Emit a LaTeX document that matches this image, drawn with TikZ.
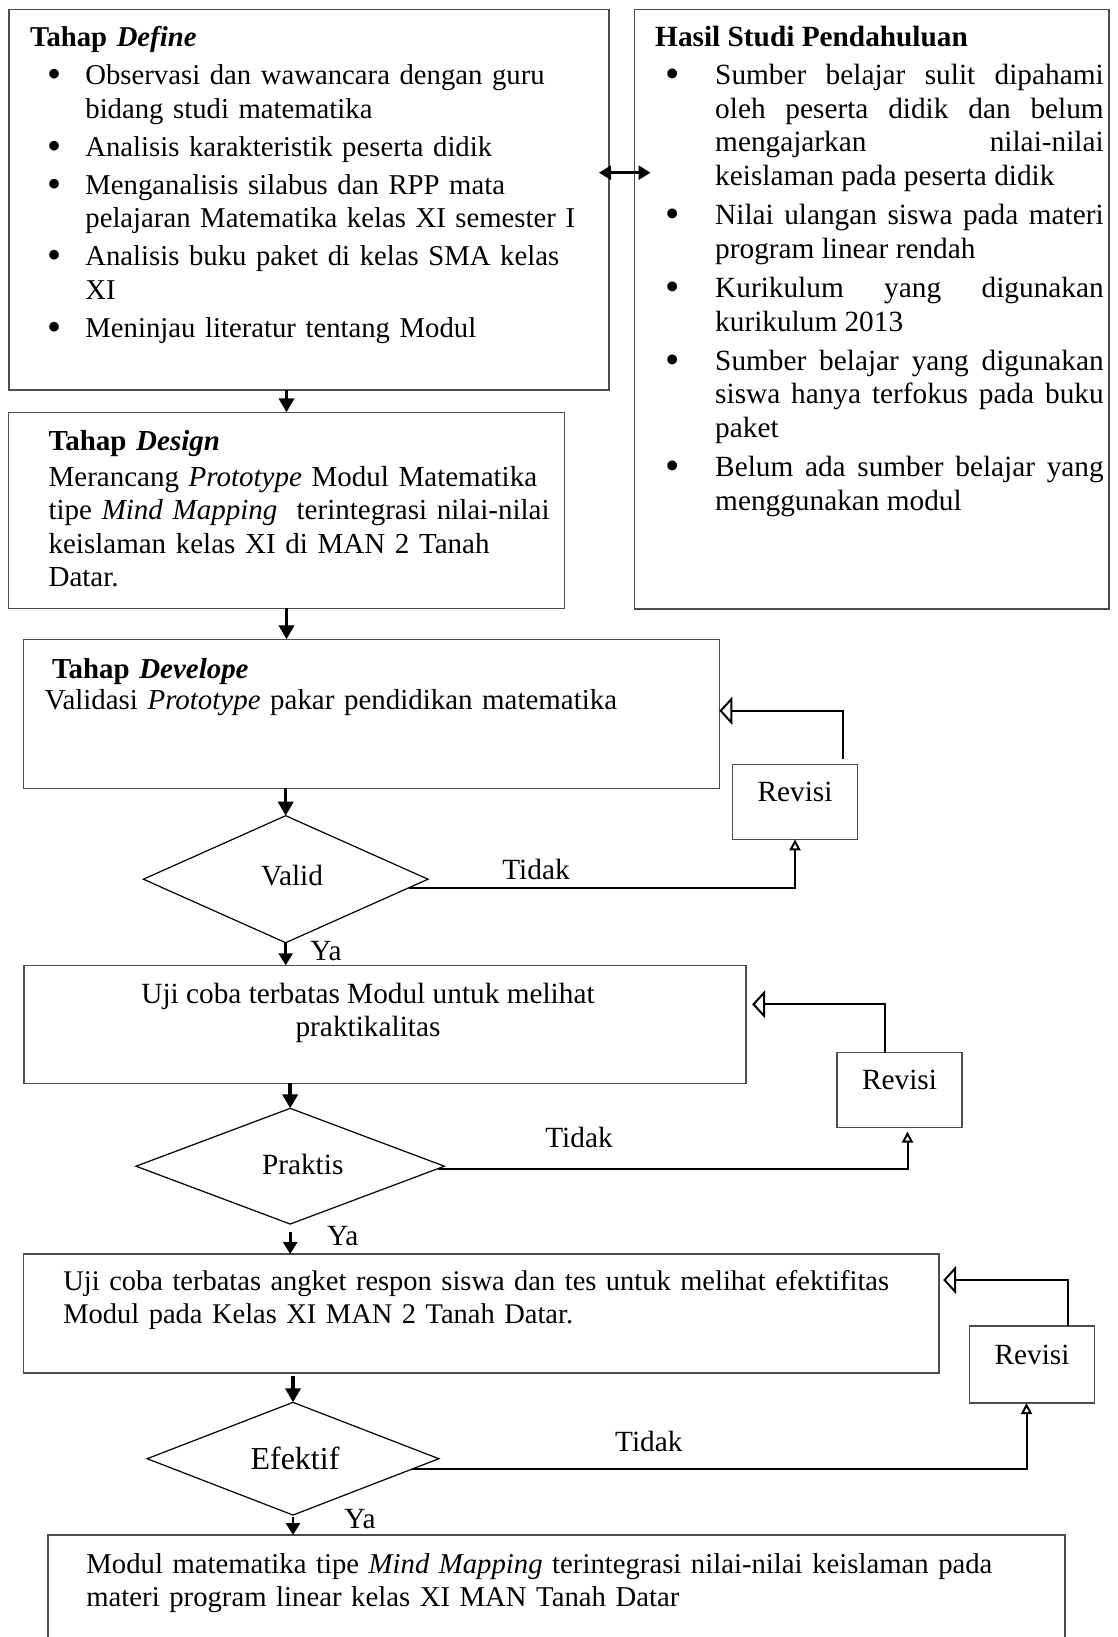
\documentclass[tikz,border=0pt]{standalone}
\usepackage{fontspec}
\setmainfont{Liberation Serif}
\usepackage{enumitem}
\usetikzlibrary{arrows.meta,shapes.geometric}

\setlength{\parindent}{0pt}
\hyphenpenalty=10000
\exhyphenpenalty=10000

\newcommand{\bigbullet}{\raisebox{-0.1em}{\scalebox{1.4}{\textbullet}}}

\begin{document}
\begin{tikzpicture}[
	x=0.5pt, y=-0.5pt,
	font=\fontsize{14.65pt}{16.75pt}\selectfont,
	box/.style={
		rectangle,
		draw=black!70,
		line width=0.75pt,
		inner sep=0pt,
		outer sep=0pt
	},
	decision/.style={
		diamond,
		aspect=2.5,
		draw=black,
		line width=0.6pt,
		inner sep=0pt,
		outer sep=0pt
	},
	revisi/.style={
		rectangle,
		draw=black!70,
		line width=0.75pt,
		minimum width=62.5pt,
		minimum height=37.5pt,
		text depth=10pt,
		inner sep=0pt,
		outer sep=0pt
	},
	txt/.style={
		inner sep=0pt,
		anchor=north west
	},
	flow/.style={
		line width=1.75pt,
		-{Triangle[width=7.5pt,length=7pt]}
	},
	yaline/.style={
		line width=1.3pt,
		-{Triangle[width=7pt,length=6pt]}
	},
	back/.style={
		line width=1pt,
		-{Triangle[open,width=14pt,length=6.5pt]}
	},
	tidakline/.style={
		line width=1pt,
		-{Triangle[open,width=5.5pt,length=5.5pt]}
	},
	dbl/.style={
		line width=1.3pt,
		{Triangle[width=7pt,length=6pt]}-{Triangle[width=7pt,length=6pt]}
	},
]

\useasboundingbox (0,0) rectangle (1118,1637);
\clip (0,0) rectangle (1118,1637);

% boxes
\node[box, minimum width=300pt, minimum height=190.35pt] (define) at (309,199.7) {};
\node[box, minimum width=237.25pt, minimum height=299.85pt] (hasil) at (871.75,309.2) {};
\node[box, minimum width=277.85pt, minimum height=98pt] (design) at (286.5,510.3) {};
\node[box, minimum width=347.8pt, minimum height=74.5pt] (develope) at (371.5,713.8) {};
\node[revisi] (rev1) at (795,801.8) {Revisi};
\node[decision, minimum width=142.3pt, minimum height=63.5pt, text depth=4.2pt] (valid) at (285.7,879.2) {\hspace*{6.3pt}Valid};
\node[box, minimum width=361.15pt, minimum height=59pt] (uji1) at (385,1024.3) {};
\node[revisi] (rev2) at (899.5,1090) {Revisi};
\node[decision, minimum width=154.2pt, minimum height=57.85pt, text depth=2pt] (praktis) at (290.2,1166.2) {\hspace*{12.5pt}Praktis};
\node[box, minimum width=457.75pt, minimum height=59.5pt] (uji2) at (481.4,1313.5) {};
\node[revisi, minimum height=38.5pt] (rev3) at (1032,1364.5) {Revisi};
\node[decision, minimum width=145.85pt, minimum height=56.35pt, font=\fontsize{16pt}{19pt}\selectfont] (efektif) at (293,1458.7) {\hspace*{2pt}Efektif};
\node[box, minimum width=508.5pt, minimum height=70pt] (final) at (556.5,1605) {};

% texts
\node[txt, text width=290pt, align=left, font=\fontsize{14.36pt}{16.75pt}\selectfont] (definetxt) at (29.6,25.5) {\textbf{Tahap \textit{Define}}
\begin{itemize}[label=\bigbullet, leftmargin=27.7pt, labelsep=12pt, topsep=2.6pt, partopsep=0pt, itemsep=2.25pt, parsep=0pt]
\item Observasi dan wawancara dengan guru\\ bidang studi matematika
\item Analisis karakteristik peserta didik
\item Menganalisis silabus dan RPP mata\\ pelajaran Matematika kelas XI semester I
\item Analisis buku paket di kelas SMA kelas\\ XI
\item Meninjau literatur tentang Modul
\end{itemize}};

\node[txt, text width=224.25pt, align=justify] (hasiltxt) at (654.8,25.5) {\tolerance=10000
\textbf{Hasil Studi Pendahuluan}
\begin{itemize}[label=\bigbullet, leftmargin=30pt, labelsep=17.5pt, topsep=2.6pt, partopsep=0pt, itemsep=2.9pt, parsep=0pt]
\item Sumber belajar sulit dipahami\linebreak oleh peserta didik dan belum\linebreak mengajarkan nilai-nilai\linebreak keislaman pada peserta didik
\item Nilai ulangan siswa pada materi\linebreak program linear rendah
\item Kurikulum yang digunakan\linebreak kurikulum 2013
\item Sumber belajar yang digunakan\linebreak siswa hanya terfokus pada buku\linebreak paket
\item Belum ada sumber belajar yang\linebreak menggunakan modul
\end{itemize}};

\node[txt, text width=270pt, align=left, font=\fontsize{14.5pt}{16.75pt}\selectfont] (designtxt) at (48.2,430) {\textbf{Tahap \textit{Design}}\par\vspace{1pt}
Merancang \textit{Prototype} Modul Matematika\\ tipe \textit{Mind Mapping}~ terintegrasi nilai-nilai\\ keislaman kelas XI di MAN 2 Tanah\\ Datar.};

\node[txt, text width=330pt, align=left, font=\fontsize{14.46pt}{16.75pt}\selectfont] (developetxt) at (44.4,658) {\hspace*{3.6pt}\textbf{Tahap \textit{Develope}}\par\vspace{-1pt}
Validasi \textit{Prototype} pakar pendidikan matematika};

\node[align=center, inner sep=0pt] (uji1txt) at (368,1013) {Uji coba terbatas Modul untuk melihat\\ praktikalitas};

\node[txt, text width=440pt, align=left, font=\fontsize{14.24pt}{16.75pt}\selectfont] (uji2txt) at (63,1270) {Uji coba terbatas angket respon siswa dan tes untuk melihat efektifitas\\ Modul pada Kelas XI MAN 2 Tanah Datar.};

\node[txt, text width=480pt, align=left, font=\fontsize{14.36pt}{16.75pt}\selectfont] (finaltxt) at (86,1553) {Modul matematika tipe \textit{Mind Mapping} terintegrasi nilai-nilai keislaman pada\\ materi program linear kelas XI MAN Tanah Datar};

% labels
\node (tidak1) at (536,869) {Tidak};
\node (tidak2) at (579,1137.3) {Tidak};
\node (tidak3) at (648.8,1441.7) {Tidak};
\node (ya1) at (326,951) {Ya};
\node (ya2) at (342.7,1236) {Ya};
\node (ya3) at (360,1519.3) {Ya};

% main flow
\draw[flow] (define.south -| design.north) -- (design.north);
\draw[flow] (design.south) -- (design.south |- develope.north);
\draw[flow] (develope.south -| valid.north) -- (valid.north);
\draw[yaline] (valid.south) -- (valid.south |- uji1.north);
\draw[flow] (uji1.south -| praktis.north) -- (praktis.north);
\draw[yaline, shorten <=4pt] (praktis.south) -- (praktis.south |- uji2.north);
\draw[flow, shorten <=1.5pt] (uji2.south -| efektif.north) -- (efektif.north);
\draw[yaline, shorten <=1pt] (efektif.south) -- (efektif.south |- final.north);

% double arrow
\coordinate (dblL) at ([shift={(-5pt,13.5pt)}]define.east);
\draw[dbl] (dblL) -- ([xshift=8pt]dblL -| hasil.west);

% tidak -> revisi
\draw[tidakline] (valid.-4.8) -| (rev1.south);
\draw[tidakline, shorten >=2pt] (praktis.-1) -| ([xshift=4pt]rev2.south);
\draw[tidakline] (efektif.-5.1) -| ([xshift=-2.75pt]rev3.south);

% revisi -> back
\draw[back] ([shift={(-7.35pt,2.5pt)}]rev1.north east) |- ([yshift=1.5pt]develope.east);
\draw[back, shorten >=3pt] ([xshift=-7.1pt]rev2.north) |- ([yshift=10pt]uji1.east);
\draw[back, shorten >=2pt] ([xshift=18pt]rev3.north) |- ([yshift=16.75pt]uji2.east);

\end{tikzpicture}
\end{document}
